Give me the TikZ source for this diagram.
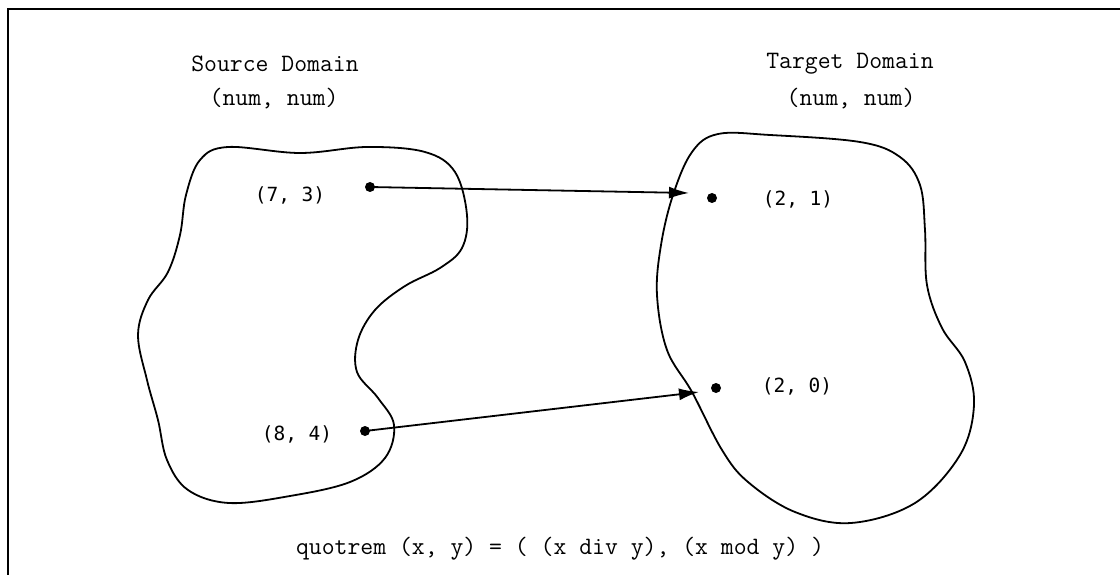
\documentclass[tikz,border=0pt]{standalone}
\usepackage{fontspec}
\usetikzlibrary{arrows.meta}
\newfontfamily\titlefont{Latin Modern Mono}
\newfontfamily\ptfont{DejaVu Sans Mono}
\begin{document}
\begin{tikzpicture}[x=1pt,y=-1pt,
  title/.style={font=\titlefont\fontsize{25}{28}\selectfont, inner sep=0pt},
  ptlabel/.style={font=\ptfont\fontsize{19.5}{22}\selectfont, inner sep=0pt},
  dot/.style={circle, fill=black, inner sep=0pt, minimum size=10pt},
  blob/.style={line width=1.8pt},
  maparrow/.style={line width=1.8pt, -{Latex[length=20pt,width=12pt]}},
  frame/.style={line width=2pt}
]
\useasboundingbox (0,0) rectangle (1120,575);
% frame (open on the right and bottom)
\draw[frame] (8,575) -- (8,9) -- (1120,9);

% titles
\node[title] (srcT) at (275,64) {Source Domain};
\node[title] (srcS) at (274,99) {(num, num)};
\node[title] (tgtT) at (850,64) {Target Domain};
\node[title] (tgtS) at (851,99) {(num, num)};
\node[title] (formula) at (560,549) {quotrem (x, y) = ( (x div y), (x mod y) )};

% source blob
\draw[blob] plot[smooth cycle, tension=0.6] coordinates {
  (228,147) (300,153) (367,147) (425,152) (455,172) (467,215) (462,248)
  (440,268) (405,286) (375,310) (358,340) (357,372) (378,398) (394,425)
  (385,458) (350,482) (290,496) (229,503) (188,490) (167,460) (158,420)
  (147,380) (138,335) (148,300) (168,272) (180,235) (186,195) (200,160)};

% target blob
\draw[blob] plot[smooth cycle, tension=0.6] coordinates {
  (718,134) (770,135) (860,142) (900,157) (920,185) (925,230) (927,285)
  (942,328) (965,362) (974,405) (960,455) (915,503) (851,523) (795,512)
  (748,482) (722,450) (692,392) (667,350) (657,295) (661,245) (673,195)
  (692,152)};

% points
\node[dot] (p73) at (370,187) {};
\node[dot] (p84) at (365,431) {};
\node[dot] (p21) at (712,198) {};
\node[dot] (p20) at (716,388) {};

\node[ptlabel] (l73) at (290,195) {(7, 3)};
\node[ptlabel] (l84) at (297,434) {(8, 4)};
\node[ptlabel] (l21) at (798,199) {(2, 1)};
\node[ptlabel] (l20) at (797,386) {(2, 0)};

% arrow tips
\coordinate (t21) at (689,193);
\coordinate (t20) at (699,392);

\draw[maparrow] (p73.center) -- (t21);
\draw[maparrow] (p84.center) -- (t20);
\end{tikzpicture}
\end{document}
